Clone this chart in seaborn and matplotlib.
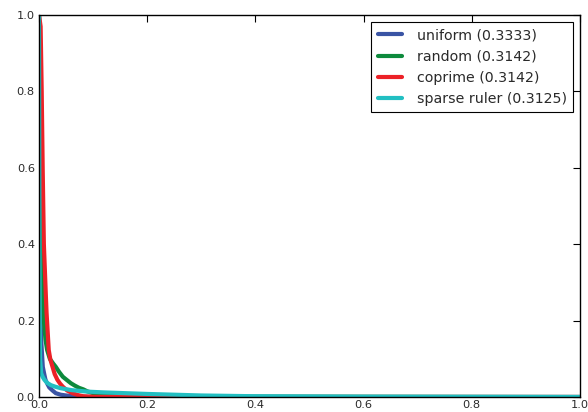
import matplotlib
matplotlib.use("Agg")
import matplotlib.pyplot as plt
import seaborn as sns
import pandas as pd

labels = ["uniform (0.3333)", "random (0.3142)", "coprime (0.3142)", "sparse ruler (0.3125)"]
colors = ["#3a54a4", "#0d8a3c", "#ec2127", "#22bfc2"]

uniform_x = [0, 0.001, 0.002, 0.004, 0.007, 0.010, 0.012, 0.016, 0.019, 0.025, 0.031, 0.040, 0.050, 0.063, 0.08, 0.2, 1.0]
uniform_y = [1.0, 0.55, 0.25, 0.15, 0.079, 0.058, 0.045, 0.033, 0.025, 0.017, 0.010, 0.006, 0.004, 0.002, 0.0005, 0.0, 0.0]

random_x = [0, 0.001, 0.003, 0.0055, 0.0078, 0.009, 0.012, 0.015, 0.020, 0.024, 0.026, 0.031, 0.037, 0.044, 0.051, 0.059, 0.066, 0.074, 0.082, 0.089, 0.1, 0.15, 0.3, 1.0]
random_y = [1.0, 0.95, 0.75, 0.4, 0.24, 0.2, 0.15, 0.123, 0.10, 0.092, 0.088, 0.079, 0.066, 0.053, 0.045, 0.036, 0.03, 0.024, 0.02, 0.015, 0.01, 0.005, 0.001, 0.0]

coprime_x = [0, 0.003, 0.005, 0.0068, 0.009, 0.013, 0.014, 0.018, 0.021, 0.025, 0.029, 0.034, 0.039, 0.044, 0.052, 0.062, 0.072, 0.082, 0.1, 0.2, 1.0]
coprime_y = [1.0, 0.97, 0.8, 0.6, 0.4, 0.254, 0.22, 0.123, 0.098, 0.079, 0.06, 0.045, 0.035, 0.027, 0.017, 0.010, 0.005, 0.002, 0.0005, 0.0, 0.0]

ruler_x = [0, 0.0005, 0.001, 0.0015, 0.002, 0.004, 0.007, 0.010, 0.015, 0.022, 0.030, 0.040, 0.060, 0.090, 0.12, 0.16, 0.2, 0.25, 0.3, 0.4, 0.6, 1.0]
ruler_y = [1.0, 0.6, 0.3, 0.15, 0.1, 0.062, 0.052, 0.045, 0.037, 0.031, 0.027, 0.023, 0.018, 0.014, 0.012, 0.010, 0.008, 0.006, 0.004, 0.002, 0.0008, 0.0]

ticks = [0.0, 0.2, 0.4, 0.6, 0.8, 1.0]
tick_labels = ["0.0", "0.2", "0.4", "0.6", "0.8", "1.0"]

series = [(uniform_x, uniform_y), (random_x, random_y), (coprime_x, coprime_y), (ruler_x, ruler_y)]
frames = []
for lab, (xs, ys) in zip(labels, series):
    frames.append(pd.DataFrame({"x": xs, "y": ys, "method": lab}))
df = pd.concat(frames, ignore_index=True)

sns.set_style("white")
plt.rcParams["font.family"] = ["DejaVu Sans"]

fig = plt.figure(figsize=(5.88, 4.12), dpi=100)
ax = fig.add_axes([39 / 588, 1 - 397 / 412, (580 - 39) / 588, (397 - 15) / 412])

sns.lineplot(data=df, x="x", y="y", hue="method", hue_order=labels,
             palette=dict(zip(labels, colors)), estimator=None, sort=False,
             linewidth=3.0, ax=ax)

ax.set_xlim(0, 1)
ax.set_ylim(0, 1)
ax.set_xticks(ticks)
ax.set_yticks(ticks)
ax.set_xticklabels(tick_labels)
ax.set_yticklabels(tick_labels)
ax.set_xlabel("")
ax.set_ylabel("")
ax.tick_params(direction="in", top=True, right=True, length=5, width=0.8,
               labelsize=8.2, colors="black", labelcolor="#2a2a2a", pad=3)
ax.tick_params(axis="x", pad=2)
for s in ax.spines.values():
    s.set_color("black")
    s.set_linewidth(1.0)

leg = ax.legend(loc="upper right", fontsize=10.2, frameon=True, fancybox=False,
                framealpha=1, edgecolor="black", handlelength=1.75,
                handletextpad=1.0, borderpad=0.45,
                borderaxespad=0.5, labelspacing=0.5)
leg.get_frame().set_linewidth(0.8)
for h in leg.get_lines():
    h.set_linewidth(3)
for t in leg.get_texts():
    t.set_color("#2a2a2a")

fig.savefig("out.png", dpi=100)
